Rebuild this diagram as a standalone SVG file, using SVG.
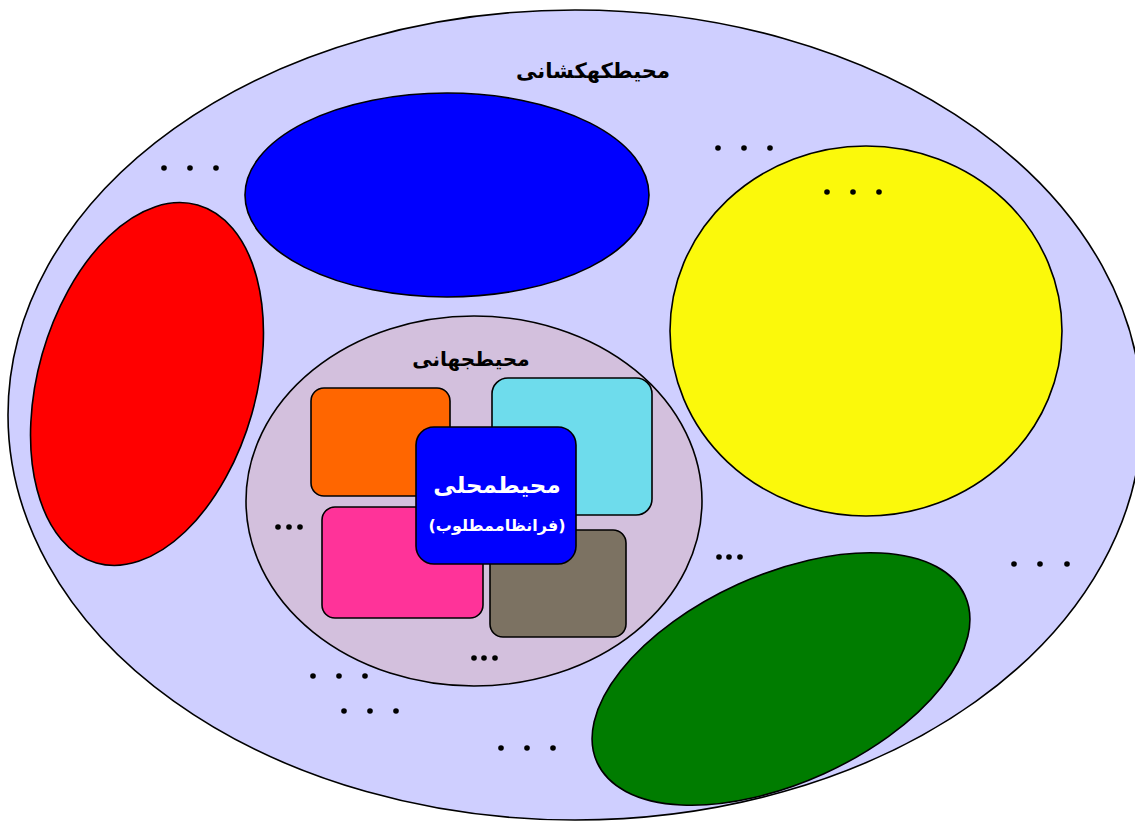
<svg xmlns="http://www.w3.org/2000/svg" width="1135" height="825" viewBox="0 0 1135 825">
<style>
.sh{stroke:#000;stroke-width:1.6}
.lbl{font-family:"DejaVu Sans","Noto Sans",sans-serif;font-weight:bold;text-anchor:middle;direction:rtl}
.dot{fill:#000}
</style>
<rect width="1135" height="825" fill="#fff"/>
<g id="galaxy">
<ellipse class="sh" cx="575" cy="415" rx="567" ry="405" fill="#cfcfff"/>
<text class="lbl" x="593" y="78" font-size="21" fill="#000">محیطکهکشانی</text>
</g>
<g id="blue-ellipse"><ellipse class="sh" cx="447" cy="195" rx="202" ry="102" fill="#0000ff"/></g>
<g id="yellow-ellipse"><ellipse class="sh" cx="866" cy="331" rx="196" ry="185" fill="#fbf90b"/></g>
<g id="red-ellipse"><ellipse class="sh" cx="147" cy="384" rx="109" ry="186" transform="rotate(15.8 147 384)" fill="#ff0000"/></g>
<g id="green-ellipse"><ellipse class="sh" cx="781" cy="679" rx="202" ry="104" transform="rotate(-24.4 781 679)" fill="#007c00"/></g>
<g id="world">
<ellipse class="sh" cx="474" cy="501" rx="228" ry="185" fill="#d3c0dd"/>
<text class="lbl" x="471" y="366" font-size="20" fill="#000">محیطجهانی</text>
</g>
<g id="orange-box"><rect class="sh" x="311" y="388" width="139" height="108" rx="13" fill="#ff6600"/></g>
<g id="cyan-box"><rect class="sh" x="492" y="378" width="160" height="137" rx="16" fill="#6edcec"/></g>
<g id="pink-box"><rect class="sh" x="322" y="507" width="161" height="111" rx="13" fill="#ff3399"/></g>
<g id="gray-box"><rect class="sh" x="490" y="530" width="136" height="107" rx="13" fill="#7c7262"/></g>
<g id="local">
<rect class="sh" x="416" y="427" width="160" height="137" rx="18" fill="#0000ff"/>
<text class="lbl" x="497" y="493" font-size="23" fill="#fff">محیطمحلی</text>
<text class="lbl" x="497" y="531" font-size="16" fill="#fff">(فرانظاممطلوب)</text>
</g>
<g id="dots">
<circle class="dot" cx="164" cy="168" r="2.8"/><circle class="dot" cx="190" cy="168" r="2.8"/><circle class="dot" cx="216" cy="168" r="2.8"/>
<circle class="dot" cx="718" cy="148" r="2.8"/><circle class="dot" cx="744" cy="148" r="2.8"/><circle class="dot" cx="770" cy="148" r="2.8"/>
<circle class="dot" cx="827" cy="192" r="2.8"/><circle class="dot" cx="853" cy="192" r="2.8"/><circle class="dot" cx="879" cy="192" r="2.8"/>
<circle class="dot" cx="1014" cy="564" r="2.8"/><circle class="dot" cx="1040" cy="564" r="2.8"/><circle class="dot" cx="1067" cy="564" r="2.8"/>
<circle class="dot" cx="313" cy="676" r="2.8"/><circle class="dot" cx="339" cy="676" r="2.8"/><circle class="dot" cx="365" cy="676" r="2.8"/>
<circle class="dot" cx="344" cy="711" r="2.8"/><circle class="dot" cx="370" cy="711" r="2.8"/><circle class="dot" cx="396" cy="711" r="2.8"/>
<circle class="dot" cx="501" cy="748" r="2.8"/><circle class="dot" cx="527" cy="748" r="2.8"/><circle class="dot" cx="553" cy="748" r="2.8"/>
<circle class="dot" cx="278" cy="527" r="2.8"/><circle class="dot" cx="289" cy="527" r="2.8"/><circle class="dot" cx="300" cy="527" r="2.8"/>
<circle class="dot" cx="474" cy="658" r="2.8"/><circle class="dot" cx="484" cy="658" r="2.8"/><circle class="dot" cx="495" cy="658" r="2.8"/>
<circle class="dot" cx="719" cy="557" r="2.8"/><circle class="dot" cx="729" cy="557" r="2.8"/><circle class="dot" cx="740" cy="557" r="2.8"/>
</g>
</svg>
